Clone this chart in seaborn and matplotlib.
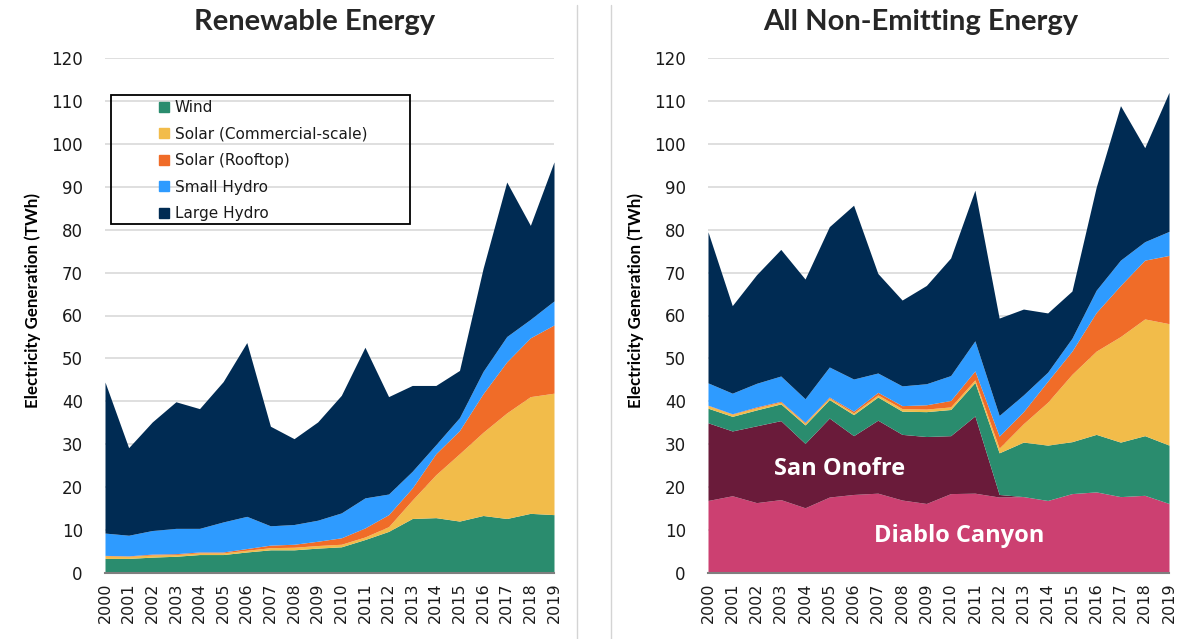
import numpy as np
import pandas as pd
import seaborn as sns
import matplotlib
matplotlib.use("Agg")
import matplotlib.pyplot as plt
from matplotlib.lines import Line2D
from matplotlib.patches import Rectangle

# ---------------- data (TWh) ----------------
years = list(range(2000, 2020))
year_labels = [str(y) for y in years]

wind        = [3.4, 3.4, 3.7, 3.9, 4.3, 4.3, 4.9, 5.4, 5.4, 5.8, 6.1, 7.8, 9.7, 12.7, 12.9, 12.1, 13.4, 12.7, 13.9, 13.6]
solar_comm  = [0.6, 0.5, 0.5, 0.4, 0.4, 0.4, 0.4, 0.5, 0.6, 0.6, 0.6, 0.6, 1.1, 4.3, 10.0, 15.7, 19.4, 24.6, 27.2, 28.3]
solar_roof  = [0.1, 0.1, 0.2, 0.2, 0.2, 0.2, 0.4, 0.6, 0.7, 1.0, 1.5, 2.1, 2.8, 2.8, 4.9, 5.4, 9.0, 11.9, 13.7, 15.9]
small_hydro = [5.2, 4.8, 5.5, 5.9, 5.5, 7.0, 7.5, 4.5, 4.6, 4.9, 5.8, 7.0, 4.8, 3.9, 2.1, 3.0, 5.2, 5.9, 4.3, 5.6]
large_hydro = [35.2, 20.4, 25.3, 29.5, 27.9, 32.7, 40.5, 23.2, 20.0, 22.9, 27.4, 35.1, 22.7, 20.0, 13.8, 11.0, 24.0, 36.0, 21.9, 32.4]

diablo_canyon = [16.9, 18.0, 16.4, 17.1, 15.2, 17.7, 18.3, 18.6, 17.0, 16.2, 18.5, 18.6, 17.7, 17.8, 16.9, 18.5, 18.9, 17.8, 18.1, 16.2]
san_onofre    = [18.1, 15.1, 17.9, 18.4, 15.0, 18.4, 13.7, 17.0, 15.3, 15.6, 13.5, 18.0, 0.6, 0, 0, 0, 0, 0, 0, 0]

renew_names = ["Wind", "Solar (Commercial-scale)", "Solar (Rooftop)", "Small Hydro", "Large Hydro"]
nuclear_names = ["Diablo Canyon", "San Onofre"]

# ---------------- style ----------------
sns.set_theme(style="white")
plt.rcParams["font.family"] = ["DejaVu Sans"]

colors = {
    "Wind": "#2A8C6E",
    "Solar (Commercial-scale)": "#F2BC4A",
    "Solar (Rooftop)": "#F06C28",
    "Small Hydro": "#2E9BFF",
    "Large Hydro": "#002B53",
    "Diablo Canyon": "#CC4071",
    "San Onofre": "#6A1B3A",
}

df = pd.DataFrame({
    "year": years,
    "Wind": wind,
    "Solar (Commercial-scale)": solar_comm,
    "Solar (Rooftop)": solar_roof,
    "Small Hydro": small_hydro,
    "Large Hydro": large_hydro,
    "Diablo Canyon": diablo_canyon,
    "San Onofre": san_onofre,
})

W, H = 1196, 639
fig = plt.figure(figsize=(W / 100, H / 100), dpi=100)

def px_axes(x0, x1, y_top, y_bot):
    return fig.add_axes([x0 / W, 1 - y_bot / H, (x1 - x0) / W, (y_bot - y_top) / H])

ax1 = px_axes(105, 554, 58, 573)
ax2 = px_axes(708, 1169, 58, 573)

def style_axis(ax):
    ax.set_xlim(2000, 2019)
    ax.set_ylim(0, 120)
    ax.set_yticks(range(0, 121, 10))
    ax.set_yticklabels([str(v) for v in range(0, 121, 10)], fontsize=12, color="#1a1a1a")
    ax.set_xticks(years)
    ax.set_xticklabels(year_labels, rotation=90, fontsize=11.5, color="#1a1a1a")
    ax.yaxis.grid(True, color="#D9D9D9", linewidth=1.2)
    ax.xaxis.grid(False)
    ax.set_axisbelow(True)
    sns.despine(ax=ax, left=True, top=True, right=True)
    ax.spines["bottom"].set_color("#7F7F7F")
    ax.spines["bottom"].set_linewidth(1.5)
    ax.spines["bottom"].set_zorder(5)
    ax.tick_params(axis="x", direction="out", length=5, width=1.5, color="#7F7F7F", pad=2)
    ax.tick_params(axis="y", length=0, pad=16)
    ax.set_xlabel("")
    ax.set_ylabel("")

# left: renewables
ax1.stackplot(df["year"], *[df[n] for n in renew_names],
              colors=[colors[n] for n in renew_names], linewidth=0)
style_axis(ax1)

# right: nuclear + renewables
right_names = nuclear_names + renew_names
ax2.stackplot(df["year"], *[df[n] for n in right_names],
              colors=[colors[n] for n in right_names], linewidth=0)
style_axis(ax2)

ax2.text(2005.42, 22.8, "San Onofre", color="white", fontsize=17, fontweight="bold",
         family="Open Sans", ha="center", va="baseline")
ax2.text(2010.35, 7.2, "Diablo Canyon", color="white", fontsize=17, fontweight="bold",
         family="Open Sans", ha="center", va="baseline")

# titles
fig.text(315 / W, 1 - 22 / H, "Renewable Energy", fontsize=21, fontweight="bold",
         family="Lato", color="#262626", ha="center", va="center")
fig.text(921 / W, 1 - 22 / H, "All Non-Emitting Energy", fontsize=21, fontweight="bold",
         family="Lato", color="#262626", ha="center", va="center")

# y labels
for xpix in (33, 636):
    fig.text(xpix / W, 1 - 301 / H, "Electricity Generation (TWh)", rotation=90,
             fontsize=12.2, fontweight="bold", family="Lato", color="black",
             ha="center", va="center")

# legend
handles = [Line2D([], [], marker="s", linestyle="none", markersize=7.5,
                  markerfacecolor=colors[n], markeredgecolor=colors[n]) for n in renew_names]
leg = ax1.legend(handles, renew_names, loc="upper left",
                 bbox_to_anchor=(156 / W, 1 - 100 / H), bbox_transform=fig.transFigure,
                 frameon=False, fontsize=11, labelspacing=0.76, handlelength=1.0,
                 handletextpad=0.22, borderpad=0, borderaxespad=0)
for t in leg.get_texts():
    t.set_color("#1a1a1a")
fig.add_artist(Rectangle((111 / W, 1 - 224 / H), (410 - 111) / W, (224 - 95) / H,
                         transform=fig.transFigure, fill=False, edgecolor="black",
                         linewidth=1.3, zorder=10))

# separator lines
for xpix in (577, 611):
    fig.add_artist(Line2D([xpix / W, xpix / W], [0, 1 - 5 / H], transform=fig.transFigure,
                          color="#D4D4D4", linewidth=1.0))

fig.savefig("out.png", dpi=100, facecolor="white")
